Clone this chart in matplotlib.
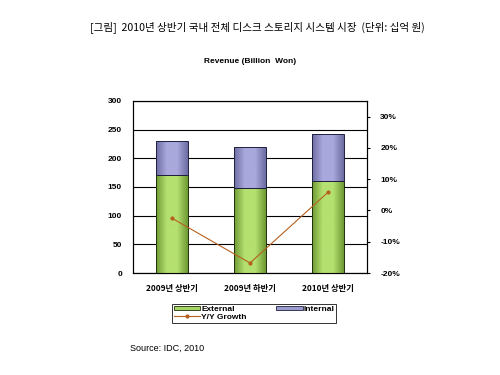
import matplotlib
matplotlib.use("Agg")
import matplotlib.pyplot as plt
import numpy as np
from matplotlib.colors import LinearSegmentedColormap
from matplotlib.patches import Patch
from matplotlib.ticker import FuncFormatter

plt.rcParams['font.family'] = ['Liberation Sans', 'Noto Sans CJK KR', 'DejaVu Sans']

categories = ["2009년 상반기", "2009년 하반기", "2010년 상반기"]
external = [170, 148, 160]
internal = [60, 71, 83]
growth = [-0.025, -0.168, 0.058]


def shade(ax, bars, dark, light):
    # cylinder-like horizontal shading inside each bar
    cmap = LinearSegmentedColormap.from_list("c", [dark, light, light, dark])
    grad = np.linspace(0, 1, 64).reshape(1, -1)
    for b in bars:
        x0, y0 = b.get_x(), b.get_y()
        im = ax.imshow(grad, extent=(x0, x0 + b.get_width(), y0, y0 + b.get_height()),
                       aspect="auto", cmap=cmap, zorder=3)
        im.set_clip_path(b)
        b.set_facecolor("none")
        b.set_zorder(4)


fig = plt.figure(figsize=(5, 3.75), dpi=100)
ax = fig.add_axes([0.266, 0.272, 0.468, 0.459])
x = range(len(categories))

b1 = ax.bar(x, external, width=0.4, color="#a6d465", edgecolor="#1f3008", linewidth=0.7,
            label="External", zorder=3)
b2 = ax.bar(x, internal, width=0.4, bottom=external, color="#9b9bd0", edgecolor="#202040",
            linewidth=0.7, label="Internal", zorder=3)
shade(ax, b1, "#6f9a35", "#b4e070")
shade(ax, b2, "#6d6da3", "#a8a8dc")
ax.set_ylim(0, 300)
ax.set_xlim(-0.5, 2.5)
ax.set_yticks(range(0, 301, 50))
ax.grid(axis="y", color="black", linewidth=0.8, zorder=0)
ax.set_xticks(list(x))
ax.set_xticklabels(categories, fontsize=6, fontweight="bold",
                   family=['Noto Sans CJK KR', 'DejaVu Sans'])
ax.tick_params(axis="y", labelsize=6, length=0, pad=8)
ax.tick_params(axis="x", length=0, pad=8)
for lbl in ax.get_yticklabels():
    lbl.set_fontweight("bold")
for s in ax.spines.values():
    s.set_linewidth(0.8)

ax2 = ax.twinx()
ax2.plot(x, growth, color="#b5601e", linewidth=0.8, marker="o", markersize=2,
         label="Y/Y Growth", zorder=5)
ax2.set_ylim(-0.2, 0.35)
ax2.set_yticks([-0.2, -0.1, 0, 0.1, 0.2, 0.3])
ax2.yaxis.set_major_formatter(FuncFormatter(lambda v, p: f"{v * 100:.0f}%"))
ax2.tick_params(axis="y", labelsize=6, length=2.5, direction="out", pad=7)
for lbl in ax2.get_yticklabels():
    lbl.set_fontweight("bold")

# row-major order: External, Internal / Y/Y Growth
leg_h = [Patch(facecolor="#a6d465", edgecolor="#1f3008", linewidth=0.6), ax2.lines[0],
         Patch(facecolor="#9b9bd0", edgecolor="#202040", linewidth=0.6)]
leg_l = ["External", "Y/Y Growth", "Internal"]
leg = fig.legend(leg_h, leg_l, loc="center", bbox_to_anchor=(0.508, 0.165),
                 ncol=2, frameon=True, fancybox=False,
                 edgecolor="black", handlelength=3.2, handleheight=0.5,
                 borderpad=0.25, labelspacing=0.05, columnspacing=3.5,
                 handletextpad=0.1, prop={"weight": "bold", "size": 6})
leg.get_frame().set_linewidth(0.7)

fig.text(0.18, 0.928, "[그림]  2010년 상반기 국내 전체 디스크 스토리지 시스템 시장  (단위: 십억 원)",
         fontsize=7.6, family=['Noto Sans CJK KR', 'DejaVu Sans'], va="center")
fig.text(0.5, 0.835, "Revenue (Billion  Won)", fontsize=6, fontweight="bold",
         ha="center", va="center")
fig.text(0.26, 0.07, "Source: IDC, 2010", fontsize=6.5, va="center")

fig.savefig("out.png", dpi=100)
